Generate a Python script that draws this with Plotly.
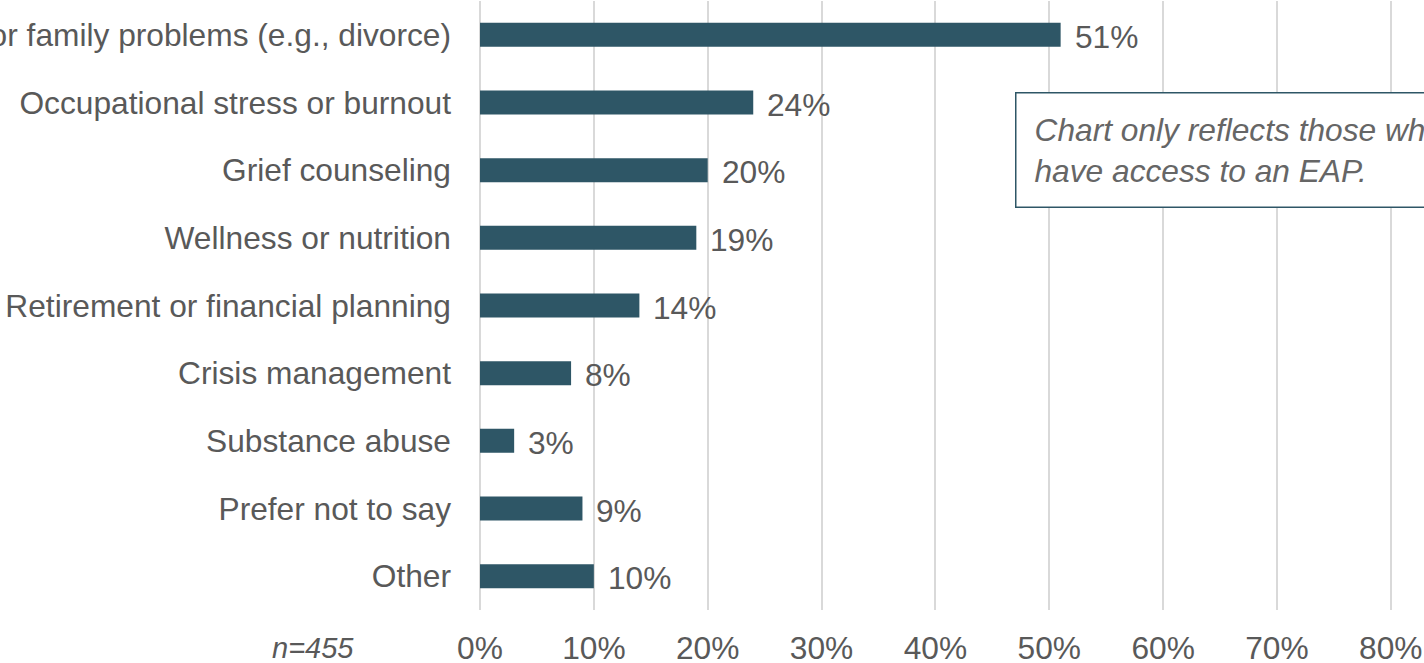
import plotly.graph_objects as go

# ─── 数据 ───
categories = [
    'Marital or family problems (e.g., divorce)',
    'Occupational stress or burnout',
    'Grief counseling',
    'Wellness or nutrition',
    'Retirement or financial planning',
    'Crisis management',
    'Substance abuse',
    'Prefer not to say',
    'Other',
]
values = [0.51, 0.24, 0.20, 0.19, 0.14, 0.08, 0.03, 0.09, 0.10]
x_ticks = [0, 0.1, 0.2, 0.3, 0.4, 0.5, 0.6, 0.7, 0.8]
note_text = 'Chart only reflects those who<br>have access to an EAP.'
n_text = 'n=455'

BAR = '#2e5666'
TEXT = '#595959'
GRID = '#d9d9d9'
FONT = 'Liberation Sans, Arial, sans-serif'
FS = 31.7

# 绘图区像素布局
W, H = 1424, 663
ML, MT, MB = 480, 1, 53
PW, PH = W - ML, H - MT - MB


def px_to_paper(px, py):
    """像素坐标 → paper 坐标（相对绘图区）"""
    return (px - ML) / PW, (H - MB - py) / PH


fig = go.Figure()
fig.add_trace(go.Bar(
    x=values, y=categories, orientation='h',
    marker=dict(color=BAR, line=dict(width=0)),
    width=0.355,
    hoverinfo='skip',
))

# 数值标签
for c, v in zip(categories, values):
    fig.add_annotation(
        x=v, y=c, xref='x', yref='y',
        text=f'{v:.0%}', showarrow=False,
        xanchor='left', yanchor='middle', xshift=12, yshift=-2,
        font=dict(size=FS, color=TEXT, family=FONT),
    )

# 说明框
bx, by = px_to_paper(1015, 92)
fig.add_annotation(
    x=bx, y=by, xref='paper', yref='paper',
    xanchor='left', yanchor='top', align='left',
    text=f'<i>{note_text}</i>', showarrow=False,
    font=dict(size=FS, color='#666666', family=FONT),
    bordercolor=BAR, borderwidth=1.5, borderpad=18,
    bgcolor='white',
)

# 样本量
nx, ny = px_to_paper(313, 648)
fig.add_annotation(
    x=nx, y=ny, xref='paper', yref='paper',
    xanchor='center', yanchor='middle',
    text=f'<i>{n_text}</i>', showarrow=False,
    font=dict(size=29, color=TEXT, family=FONT),
)

fig.update_layout(
    width=W, height=H,
    margin=dict(l=ML, r=0, t=MT, b=MB),
    plot_bgcolor='white', paper_bgcolor='white',
    font=dict(family=FONT, size=FS, color=TEXT),
    showlegend=False,
)
fig.update_xaxes(
    range=[0, PW / 1138.5],
    tickvals=x_ticks, tickformat='.0%',
    showgrid=True, gridcolor=GRID, gridwidth=2,
    zeroline=True, zerolinecolor=GRID, zerolinewidth=2,
    showline=False, ticks='', ticklabelstandoff=16,
    tickfont=dict(size=FS, color=TEXT),
    automargin=False,
)
fig.update_yaxes(
    autorange='reversed',
    showgrid=False, zeroline=False, showline=False, ticks='',
    ticklabelstandoff=28,
    tickfont=dict(size=FS, color=TEXT),
    automargin=False,
)

fig.write_html('out.html', config={'displayModeBar': False},
               post_script="document.body.style.margin='0';")
